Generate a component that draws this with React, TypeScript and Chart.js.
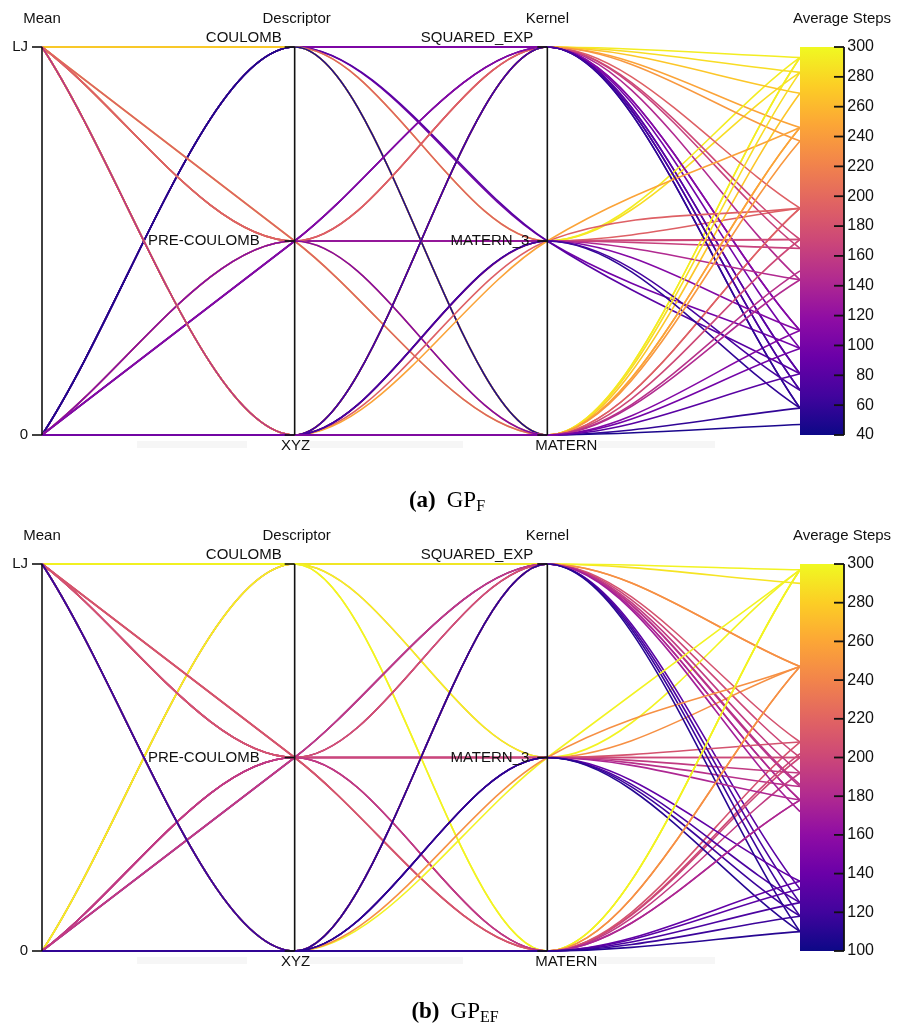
import React, { useEffect, useRef } from 'react';
import { Chart, registerables } from 'chart.js';

Chart.register(...registerables);

// ---------- categories & titles ----------
const meanCats = ['0', 'LJ'];
const descCats = ['XYZ', 'PRE-COULOMB', 'COULOMB'];
const kernelCats = ['MATERN', 'MATERN_3', 'SQUARED_EXP'];
const axisTitles = ['Mean', 'Descriptor', 'Kernel', 'Average Steps'];

// ---------- panel (a) GP_F : indices into the category arrays ----------
const meanA = [
  1, 0, 0, 0, 1, 1, 0, 0, 1, 0, 0, 1, 1, 0,
  1, 1, 0, 0, 1, 1, 0, 0, 1, 0, 1, 1, 0, 0,
  1, 1, 1, 0, 0, 0, 1, 1, 0, 1, 0, 0, 0, 1, 1, 0, 0, 0, 0, 1, 0,
];
const descA = [
  2, 2, 2, 2, 2, 2, 2, 2, 2, 2, 2, 2, 2, 2,
  1, 1, 1, 1, 1, 1, 1, 1, 1, 1, 1, 1, 1, 1,
  0, 0, 0, 0, 0, 0, 0, 0, 0, 0, 0, 0, 0, 0, 0, 0, 0, 0, 0, 0, 0,
];
const kernelA = [
  2, 2, 2, 2, 2, 1, 1, 1, 1, 0, 0, 0, 0, 0,
  2, 2, 2, 2, 1, 1, 1, 1, 0, 0, 2, 0, 2, 0,
  2, 2, 2, 2, 2, 2, 1, 1, 1, 1, 1, 1, 2, 0, 0, 0, 0, 0, 0, 0, 0,
];
const stepsA = [
  293, 58, 81, 98, 110, 283, 98, 81, 192, 192, 58, 293, 269, 47,
  246, 165, 144, 81, 293, 171, 165, 110, 293, 246, 192, 192, 110, 110,
  283, 171, 70, 269, 237, 58, 171, 192, 144, 246, 58, 70, 70, 283, 246, 237, 171, 144, 81, 150, 98,
];
const ticksA = [40, 60, 80, 100, 120, 140, 160, 180, 200, 220, 240, 260, 280, 300];

// ---------- panel (b) GP_EF ----------
const meanB = [
  1, 0, 0, 0, 1, 1, 1, 0,
  1, 1, 0, 0, 1, 1, 0, 0, 0, 1, 1, 0, 0, 1, 1, 0, 0,
  1, 1, 0, 0, 0, 1, 1, 1, 0, 0, 0, 0, 0, 1, 1, 0, 0, 0, 0, 1, 0,
];
const descB = [
  2, 2, 2, 2, 2, 2, 2, 2,
  1, 1, 1, 1, 1, 1, 1, 1, 1, 1, 1, 1, 1, 1, 1, 1, 1,
  0, 0, 0, 0, 0, 0, 0, 0, 0, 0, 0, 0, 0, 0, 0, 0, 0, 0, 0, 0, 0,
];
const kernelB = [
  2, 2, 2, 1, 2, 1, 0, 0,
  2, 2, 2, 2, 1, 1, 1, 1, 1, 0, 0, 0, 0, 2, 0, 2, 0,
  2, 2, 2, 2, 2, 1, 1, 1, 1, 1, 1, 1, 2, 0, 0, 0, 0, 0, 0, 0, 0,
];
const stepsB = [
  247, 200, 290, 247, 297, 297, 297, 297,
  178, 186, 132, 178, 200, 208, 185, 192, 200, 247, 202, 200, 178, 208, 208, 192, 192,
  125, 118, 185, 247, 172, 136, 297, 125, 178, 247, 118, 110, 110, 297, 136, 247, 178, 132, 125, 118, 110,
];
const ticksB = [100, 120, 140, 160, 180, 200, 220, 240, 260, 280, 300];

// ---------- colour map (plasma) ----------
const PLASMA = ['#0d0887', '#41049d', '#6a00a8', '#8f0da4', '#b12a90', '#cc4778', '#e16462', '#f2844b', '#fca636', '#fcce25', '#f0f921'];
function hex(c: string) {
  return [parseInt(c.slice(1, 3), 16), parseInt(c.slice(3, 5), 16), parseInt(c.slice(5, 7), 16)];
}
function plasma(t: number) {
  const v = Math.max(0, Math.min(1, t)) * 10;
  const i = Math.min(9, Math.floor(v));
  const f = v - i;
  const a = hex(PLASMA[i]);
  const b = hex(PLASMA[i + 1]);
  const r = a.map((x, k) => Math.round(x + (b[k] - x) * f));
  return `rgb(${r[0]},${r[1]},${r[2]})`;
}

// ---------- layout constants ----------
const W = 898;
const SANS = '"Liberation Sans", Arial, Helvetica, sans-serif';
const SERIF = '"Liberation Serif", "Times New Roman", serif';
// label placement per categorical axis, per category index: [dx, dy, align]
const labelLayout: [number, number, CanvasTextAlign][][] = [
  [[-14, 0, 'right'], [-14, 0, 'right']],
  [[1, 11, 'center'], [-35, 0, 'right'], [-13, -9, 'right']],
  [[19, 11, 'center'], [-18, 0, 'right'], [-14, -9, 'right']],
];
const titleDx = [0, 2, 0, 42];

type Panel = {
  mean: number[]; desc: number[]; kernel: number[]; steps: number[];
  min: number; max: number; ticks: number[];
  height: number; padBottom: number;
  capLabel: string; capSub: string; capX: number; capY: number;
  bands: number[][];
};

const panelA: Panel = {
  mean: meanA, desc: descA, kernel: kernelA, steps: stepsA,
  min: 40, max: 300, ticks: ticksA,
  height: 517, padBottom: 517 - 435,
  capLabel: '(a)', capSub: 'F', capX: 447, capY: 507,
  bands: [[137, 247], [296, 463], [598, 715]],
};
const panelB: Panel = {
  mean: meanB, desc: descB, kernel: kernelB, steps: stepsB,
  min: 100, max: 300, ticks: ticksB,
  height: 508, padBottom: 508 - 434,
  capLabel: '(b)', capSub: 'EF', capX: 455, capY: 501,
  bands: [[137, 247], [296, 463], [598, 715]],
};

function makePlugin(p: Panel) {
  return {
    id: 'parcoords',
    beforeDatasetsDraw(chart: any) {
      const ctx = chart.ctx;
      const { bottom } = chart.chartArea;
      ctx.save();
      ctx.fillStyle = 'rgba(0,0,0,0.035)';
      p.bands.forEach(([a, b]) => ctx.fillRect(a, bottom + 6, b - a, 7));
      ctx.restore();
    },
    afterDatasetsDraw(chart: any) {
      const ctx = chart.ctx;
      const { top, bottom, right } = chart.chartArea;
      const xs = chart.scales.x;
      const ys = chart.scales.y;
      ctx.save();
      // categorical axes
      const cats = [meanCats, descCats, kernelCats];
      cats.forEach((list, ai) => {
        const ax = xs.getPixelForValue(ai);
        ctx.strokeStyle = '#111';
        ctx.lineWidth = 1.6;
        ctx.beginPath();
        ctx.moveTo(ax, top);
        ctx.lineTo(ax, bottom);
        ctx.stroke();
        list.forEach((lab, ci) => {
          const y = ys.getPixelForValue(ci / (list.length - 1));
          ctx.beginPath();
          ctx.moveTo(ax - 10, y);
          ctx.lineTo(ax, y);
          ctx.stroke();
          const [dx, dy, align] = labelLayout[ai][ci];
          ctx.fillStyle = '#111';
          ctx.font = `15px ${SANS}`;
          ctx.textAlign = align;
          ctx.textBaseline = 'middle';
          ctx.fillText(lab, ax + dx, y + dy);
        });
      });
      // colour bar
      const cbL = right;
      const cbR = right + 44;
      const g = ctx.createLinearGradient(0, bottom, 0, top);
      PLASMA.forEach((c, i) => g.addColorStop(i / (PLASMA.length - 1), c));
      ctx.fillStyle = g;
      ctx.fillRect(cbL, top, cbR - cbL, bottom - top);
      ctx.strokeStyle = '#111';
      ctx.lineWidth = 1.8;
      ctx.beginPath();
      ctx.moveTo(cbR, top);
      ctx.lineTo(cbR, bottom);
      ctx.stroke();
      p.ticks.forEach((t) => {
        const y = ys.getPixelForValue((t - p.min) / (p.max - p.min));
        ctx.beginPath();
        ctx.moveTo(cbR - 10, y);
        ctx.lineTo(cbR, y);
        ctx.stroke();
        ctx.fillStyle = '#111';
        ctx.font = `16px ${SANS}`;
        ctx.textAlign = 'right';
        ctx.textBaseline = 'middle';
        ctx.fillText(String(t), cbR + 30, y);
      });
      // titles
      axisTitles.forEach((tt, ai) => {
        const ax = xs.getPixelForValue(ai) + titleDx[ai];
        ctx.fillStyle = '#111';
        ctx.font = `15px ${SANS}`;
        ctx.textAlign = 'center';
        ctx.textBaseline = 'middle';
        ctx.fillText(tt, ax, top - 28);
      });
      // caption
      ctx.fillStyle = '#000';
      ctx.textBaseline = 'alphabetic';
      ctx.textAlign = 'left';
      ctx.font = `bold 23px ${SERIF}`;
      const w1 = ctx.measureText(p.capLabel).width;
      ctx.font = `23px ${SERIF}`;
      const w2 = ctx.measureText('GP').width;
      ctx.font = `16px ${SERIF}`;
      const w3 = ctx.measureText(p.capSub).width;
      const gap = 11;
      let x = p.capX - (w1 + gap + w2 + w3) / 2;
      ctx.font = `bold 23px ${SERIF}`;
      ctx.fillText(p.capLabel, x, p.capY);
      x += w1 + gap;
      ctx.font = `23px ${SERIF}`;
      ctx.fillText('GP', x, p.capY);
      x += w2;
      ctx.font = `16px ${SERIF}`;
      ctx.fillText(p.capSub, x, p.capY + 4);
      ctx.restore();
    },
  };
}

function makeChart(canvas: HTMLCanvasElement, p: Panel) {
  const norm = (s: number) => (s - p.min) / (p.max - p.min);
  const datasets: any[] = p.steps.map((s, i) => ({
    data: [
      { x: 0, y: p.mean[i] / (meanCats.length - 1) },
      { x: 1, y: p.desc[i] / (descCats.length - 1) },
      { x: 2, y: p.kernel[i] / (kernelCats.length - 1) },
      { x: 3, y: norm(s) },
    ],
    borderColor: plasma(norm(s)),
    borderWidth: 1.6,
    pointRadius: 0,
    pointHoverRadius: 0,
    cubicInterpolationMode: 'monotone',
    tension: 0.4,
    fill: false,
    clip: false,
  }));
  datasets.reverse(); // first dataset is drawn on top in Chart.js
  return new Chart(canvas, {
    type: 'line',
    data: { datasets },
    options: {
      animation: false,
      responsive: false,
      events: [],
      layout: { padding: { left: 42, right: W - 800, top: 47, bottom: p.padBottom } },
      scales: {
        x: { type: 'linear', min: 0, max: 3, display: false },
        y: { type: 'linear', min: 0, max: 1, display: false },
      },
      plugins: { legend: { display: false }, tooltip: { enabled: false } },
    },
    plugins: [makePlugin(p)],
  } as any);
}

export default function App() {
  const refA = useRef<HTMLCanvasElement>(null);
  const refB = useRef<HTMLCanvasElement>(null);
  useEffect(() => {
    const ca = makeChart(refA.current!, panelA);
    const cb = makeChart(refB.current!, panelB);
    return () => {
      ca.destroy();
      cb.destroy();
    };
  }, []);
  return (
    <div style={{ position: 'absolute', left: 0, top: 0, width: W, height: 1025, background: '#fff' }}>
      <canvas ref={refA} width={W} height={panelA.height} style={{ position: 'absolute', left: 0, top: 0 }} />
      <canvas ref={refB} width={W} height={panelB.height} style={{ position: 'absolute', left: 0, top: panelA.height }} />
    </div>
  );
}
